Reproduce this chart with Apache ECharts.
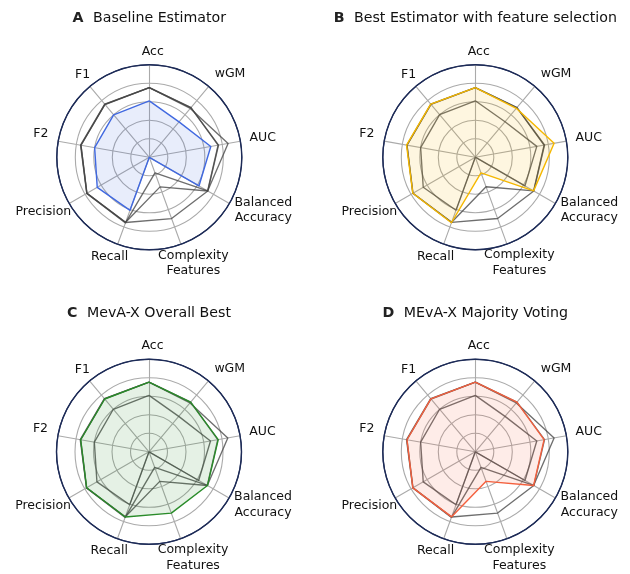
<!DOCTYPE html>
<html><head><meta charset="utf-8">
<script src="https://cdn.jsdelivr.net/npm/echarts@6/dist/echarts.min.js"></script>
<style>html,body{margin:0;padding:0;background:#fff}#c{width:630px;height:574px}</style>
</head><body><div id="c"></div>
<script>
// Axes in clockwise order starting at the top
const categories = ['Acc', 'wGM', 'AUC', 'Balanced\nAccuracy', 'Complexity\nFeatures', 'Recall', 'Precision', 'F2', 'F1'];
const baseline   = [0.61, 0.50, 0.675, 0.62, 0.00, 0.61, 0.65, 0.60, 0.60];
const bestFS     = [0.753, 0.69, 0.865, 0.728, 0.18, 0.754, 0.78, 0.755, 0.75];
const mevaBest   = [0.753, 0.70, 0.76, 0.73, 0.705, 0.75, 0.778, 0.75, 0.745];
const mevaVoting = [0.753, 0.70, 0.755, 0.728, 0.34, 0.748, 0.78, 0.75, 0.748];
const panelLetters = ['A', 'B', 'C', 'D'];
const panelTitles = ['Baseline Estimator', 'Best Estimator with feature selection', 'MevA-X Overall Best', 'MEvA-X Majority Voting'];
const panelColors = ['#4169e1', '#f5b800', '#2a8c2a', '#f4603e'];

const seriesList = [baseline, bestFS, mevaBest, mevaVoting];
const centers = [[149.3, 157.3], [475.3, 157.2], [149.0, 451.8], [475.3, 451.8]];
const titleY = [18.3, 18.3, 312.9, 312.9];
const R = 92.5;
const FONT = 'DejaVu Sans';
// label placement (distance from centre, direction in degrees) for each axis name
const labelPlace = [[105.7, 88.1], [116, 45.9], [115.1, 9.8], [125.7, -24.9], [114.5, -67.4],
                    [107, -111.8], [119.1, -152.8], [111, 167.9], [105.9, 129]];
// ECharts radar places indicators counter-clockwise; reorder to get clockwise layout
const order = [0, 8, 7, 6, 5, 4, 3, 2, 1];
const reorder = arr => order.map(i => arr[i]);

const chart = echarts.init(document.getElementById('c'), null, {renderer: 'canvas'});

const radars = centers.map(c => ({
  center: c,
  radius: R,
  shape: 'circle',
  startAngle: 90,
  splitNumber: 5,
  indicator: reorder(categories).map(n => ({name: n, min: 0, max: 1})),
  axisName: {show: false},
  splitLine: {lineStyle: {color: ['#aaaaaa', '#aaaaaa', '#aaaaaa', '#aaaaaa', '#aaaaaa', '#1d2b57'], width: 1.1}},
  splitArea: {show: false},
  axisLine: {lineStyle: {color: '#aaaaaa', width: 1.1}},
  axisTick: {show: false},
  axisLabel: {show: false}
}));

const series = seriesList.map((own, p) => {
  const data = [];
  seriesList.forEach((s, k) => {
    if (k === p) return;
    data.push({
      value: reorder(s),
      name: 'other' + k,
      lineStyle: {color: '#454545', width: 1.35, opacity: 0.78},
      areaStyle: {opacity: 0}
    });
  });
  data.push({
    value: reorder(own),
    name: panelTitles[p],
    lineStyle: {color: panelColors[p], width: 1.4},
    areaStyle: {color: panelColors[p], opacity: 0.12}
  });
  return {type: 'radar', radarIndex: p, symbol: 'none', silent: true, animation: false, data};
});

const graphics = [];
centers.forEach((c, p) => {
  graphics.push({
    type: 'text', x: c[0], y: titleY[p], silent: true,
    style: {
      text: '{l|' + panelLetters[p] + '}{t|' + panelTitles[p] + '}',
      textAlign: 'center', textVerticalAlign: 'middle',
      rich: {
        l: {fontFamily: FONT, fontSize: 14.2, fontWeight: 'bold', fill: '#222', padding: [0, 9.5, 0, 0]},
        t: {fontFamily: FONT, fontSize: 14.2, fill: '#111'}
      }
    }
  });
  graphics.push({
    type: 'circle', silent: true, z: 10,
    shape: {cx: c[0], cy: c[1], r: R},
    style: {fill: 'none', stroke: '#1d2b57', lineWidth: 1.4}
  });
  categories.forEach((name, i) => {
    const [d, a] = labelPlace[i];
    const rad = a * Math.PI / 180;
    graphics.push({
      type: 'text', silent: true,
      x: c[0] + d * Math.cos(rad),
      y: c[1] - d * Math.sin(rad),
      style: {
        text: name, fontFamily: FONT, fontSize: 12.5, fill: '#111',
        textAlign: 'center', textVerticalAlign: 'middle', lineHeight: 15.5
      }
    });
  });
});

chart.setOption({
  animation: false,
  backgroundColor: '#fff',
  radar: radars,
  series: series,
  graphic: graphics
});
</script></body></html>
